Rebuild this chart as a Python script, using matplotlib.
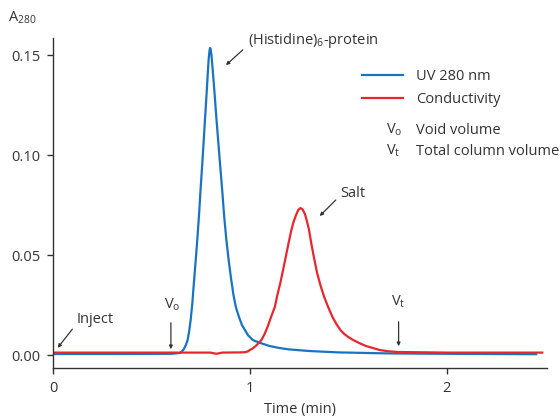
import matplotlib
matplotlib.use("Agg")
import matplotlib.pyplot as plt

plt.rcParams["font.family"] = ["Open Sans", "DejaVu Sans"]
plt.rcParams["mathtext.default"] = "regular"

# values
uv_time = [0, 0.3, 0.6, 0.645, 0.655, 0.665, 0.675, 0.684, 0.692, 0.70, 0.708, 0.715,
           0.724, 0.733, 0.742, 0.75, 0.758, 0.766, 0.773, 0.78, 0.786, 0.791, 0.795,
           0.798, 0.801, 0.805, 0.812, 0.82, 0.829, 0.839, 0.85, 0.86, 0.87, 0.881,
           0.893, 0.905, 0.917, 0.929, 0.945, 0.96, 0.975, 0.99, 1.015, 1.04, 1.06,
           1.1, 1.15, 1.2, 1.3, 1.45, 1.7, 2.0, 2.455]
uv_abs = [0.0005, 0.0005, 0.0006, 0.001, 0.0018, 0.003, 0.005, 0.0075, 0.012, 0.018,
          0.026, 0.035, 0.046, 0.0575, 0.070, 0.083, 0.095, 0.1075, 0.119, 0.130,
          0.140, 0.148, 0.152, 0.1535, 0.153, 0.150, 0.142, 0.132, 0.120, 0.1075,
          0.094, 0.082, 0.069, 0.0575, 0.047, 0.038, 0.030, 0.024, 0.019, 0.015,
          0.0125, 0.010, 0.0075, 0.0065, 0.0058, 0.0045, 0.0035, 0.0028, 0.002,
          0.0013, 0.0008, 0.0006, 0.0004]

cond_time = [0, 0.6, 0.8, 0.83, 0.86, 0.95, 0.975, 0.99, 1.0, 1.015, 1.03, 1.045,
             1.059, 1.075, 1.09, 1.108, 1.127, 1.14, 1.155, 1.17, 1.183, 1.197, 1.21,
             1.222, 1.235, 1.246, 1.257, 1.268, 1.28, 1.29, 1.30, 1.312, 1.325, 1.342,
             1.36, 1.378, 1.398, 1.42, 1.44, 1.46, 1.48, 1.50, 1.525, 1.56, 1.59,
             1.625, 1.66, 1.7, 1.75, 2.0, 2.486]
cond_val = [0.0012, 0.0012, 0.0012, 0.0006, 0.0012, 0.0013, 0.0014, 0.0018, 0.0025,
            0.0033, 0.0045, 0.006, 0.0075, 0.0105, 0.014, 0.019, 0.024, 0.030, 0.036,
            0.043, 0.0492, 0.056, 0.062, 0.0665, 0.070, 0.0725, 0.0735, 0.0728, 0.0705,
            0.067, 0.063, 0.056, 0.0492, 0.041, 0.0345, 0.029, 0.024, 0.019, 0.0155,
            0.0125, 0.0105, 0.009, 0.0075, 0.0058, 0.0045, 0.0035, 0.0025, 0.0019,
            0.0015, 0.0012, 0.0012]

x_ticks = [0, 1, 2]
y_ticks = [0.00, 0.05, 0.10, 0.15]

blue = "#1874c1"
red = "#e8262d"
txt = "#333333"
fs = 10.5

fig = plt.figure(figsize=(5.6, 4.19), dpi=100)
ax = fig.add_axes([53 / 560, 1 - 368 / 419, (547 - 53) / 560, (368 - 38) / 419])

l1, = ax.plot(uv_time, uv_abs, color=blue, lw=1.6, label="UV 280 nm")
l2, = ax.plot(cond_time, cond_val, color=red, lw=1.6, label="Conductivity")

ax.set_xlim(0, 2.51)
ax.set_ylim(-0.0065, 0.1585)
ax.set_xticks(x_ticks)
ax.set_xticklabels([str(v) for v in x_ticks])
ax.set_yticks(y_ticks)
ax.set_yticklabels([f"{v:.2f}" for v in y_ticks])
for s in ["top", "right"]:
    ax.spines[s].set_visible(False)
for s in ["left", "bottom"]:
    ax.spines[s].set_color(txt)
    ax.spines[s].set_linewidth(1.0)
ax.tick_params(direction="out", length=4, width=1, color=txt, labelcolor=txt,
               labelsize=fs, pad=5)
ax.set_xlabel("Time (min)", fontsize=fs, color=txt, labelpad=5)
fig.text(8 / 560, 1 - 18 / 419, "A$_{280}$", fontsize=fs, color=txt, va="center")

arr = dict(arrowstyle="-|>", color=txt, lw=0.9, mutation_scale=5)

# peak labels
ax.text(0.99, 0.1575, "(Histidine)$_6$-protein", fontsize=fs, color=txt, va="center")
ax.annotate("", xy=(0.868, 0.144), xytext=(0.975, 0.1535), arrowprops=arr)
ax.text(1.457, 0.081, "Salt", fontsize=fs, color=txt, va="center")
ax.annotate("", xy=(1.345, 0.0685), xytext=(1.447, 0.0785), arrowprops=arr)
ax.text(0.122, 0.018, "Inject", fontsize=fs, color=txt, va="center")
ax.annotate("", xy=(0.015, 0.0025), xytext=(0.107, 0.014), arrowprops=arr)
ax.text(0.604, 0.025, "V$_o$", fontsize=fs, color=txt, ha="center", va="center")
ax.annotate("", xy=(0.599, 0.0015), xytext=(0.599, 0.0175), arrowprops=arr)
ax.text(1.756, 0.0265, "V$_t$", fontsize=fs, color=txt, ha="center", va="center")
ax.annotate("", xy=(1.756, 0.003), xytext=(1.756, 0.018), arrowprops=arr)

# legend
leg = ax.legend(handles=[l1, l2], loc="upper left", frameon=False, fontsize=fs,
                bbox_to_anchor=(362 / 560, 1 - 69 / 419), bbox_transform=fig.transFigure,
                borderpad=0, borderaxespad=0, handlelength=2.8, handletextpad=0.9,
                labelspacing=0.55)
for t in leg.get_texts():
    t.set_color(txt)
fig.text(386 / 560, 1 - 130 / 419, "V$_o$", fontsize=fs, color=txt, va="center")
fig.text(416 / 560, 1 - 130 / 419, "Void volume", fontsize=fs, color=txt, va="center")
fig.text(386 / 560, 1 - 151 / 419, "V$_t$", fontsize=fs, color=txt, va="center")
fig.text(416 / 560, 1 - 151 / 419, "Total column volume", fontsize=fs, color=txt, va="center")

fig.savefig("out.png", dpi=100)
